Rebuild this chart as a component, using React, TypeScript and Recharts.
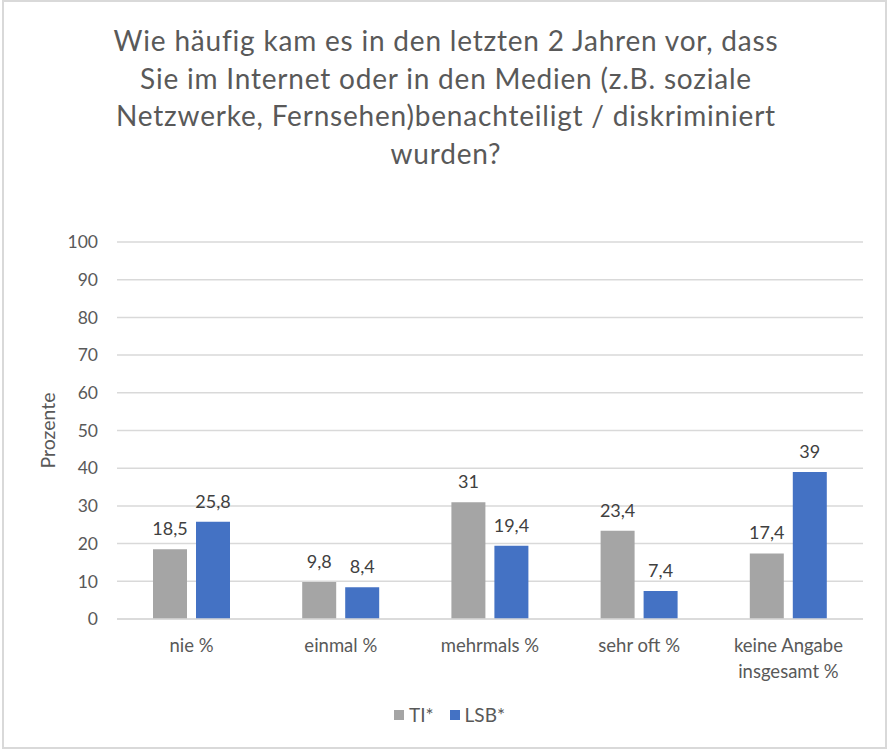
import React from "react";
import { BarChart, Bar, XAxis, YAxis, CartesianGrid, LabelList, Legend } from "recharts";

const titleLines = [
  "Wie häufig kam es in den letzten 2 Jahren vor, dass",
  "Sie im Internet oder in den Medien (z.B. soziale",
  "Netzwerke, Fernsehen)benachteiligt / diskriminiert",
  "wurden?",
];
const categories = ["nie %", "einmal %", "mehrmals %", "sehr oft %", "keine Angabe\ninsgesamt %"];
const tiValues = [18.5, 9.8, 31, 23.4, 17.4];
const lsbValues = [25.8, 8.4, 19.4, 7.4, 39];
const yTicks = [0, 10, 20, 30, 40, 50, 60, 70, 80, 90, 100];
const seriesNames = ["TI*", "LSB*"];
const yAxisTitle = "Prozente";

const data = categories.map((c, i) => ({ name: c, ti: tiValues[i], lsb: lsbValues[i] }));

const FONT = "Lato, 'DejaVu Sans', sans-serif";
const TEXT = "#595959";

const fmt = (v: any) => String(v).replace(".", ",");

const CategoryTick = (props: any) => {
  const { x, y, payload } = props;
  const lines = String(payload.value).split("\n");
  return (
    <text x={x} y={y} textAnchor="middle" fill={TEXT} fontSize={18.5} fontFamily={FONT}>
      {lines.map((l, i) => (
        <tspan key={i} x={x} dy={i === 0 ? 33 : 26}>
          {l}
        </tspan>
      ))}
    </text>
  );
};

const YLabel = (props: any) => {
  const vb = props.viewBox || {};
  const cx = vb.x + 47;
  const cy = vb.y + vb.height / 2;
  return (
    <text x={cx} y={cy} transform={`rotate(-90, ${cx}, ${cy})`} textAnchor="middle" dominantBaseline="central" fill={TEXT} fontSize={19.5} fontFamily={FONT}>
      {yAxisTitle}
    </text>
  );
};

const LegendContent = (props: any) => {
  const items = [...(props.payload || [])].sort(
    (a: any, b: any) => seriesNames.indexOf(a.value) - seriesNames.indexOf(b.value)
  );
  return (
    <div style={{ display: "flex", justifyContent: "center", alignItems: "center", fontFamily: FONT, fontSize: 19, color: TEXT }}>
      {items.map((it: any, i: number) => (
        <div key={i} style={{ display: "flex", alignItems: "center", marginLeft: i === 0 ? 0 : 16 }}>
          <span style={{ display: "inline-block", width: 10, height: 10, background: it.color, marginRight: 5 }} />
          <span>{it.value}</span>
        </div>
      ))}
    </div>
  );
};

export default function App() {
  return (
    <div style={{ position: "absolute", left: 0, top: 0, width: 888, height: 751, background: "#fff", fontFamily: FONT }}>
      <div style={{ position: "absolute", left: 2, top: 0, width: 881, height: 745, border: "2px solid #d9d9d9" }} />
      <div style={{ position: "absolute", left: 0, top: 22, width: 892, textAlign: "center", color: TEXT, fontSize: 28, letterSpacing: 0.8, lineHeight: "37.7px", fontFamily: FONT }}>
        {titleLines.map((l, i) => (
          <div key={i}>{l}</div>
        ))}
      </div>
      <div style={{ position: "absolute", left: 0, top: 0 }}>
        <BarChart width={888} height={751} data={data} margin={{ top: 242, right: 25, left: 0, bottom: 42 }} barGap={9} barSize={34}>
          <CartesianGrid vertical={false} stroke="#d9d9d9" strokeWidth={1.5} />
          <XAxis dataKey="name" height={60} tickLine={false} tickSize={0} tickMargin={0} axisLine={{ stroke: "#d9d9d9", strokeWidth: 1.5 }} tick={<CategoryTick />} interval={0} />
          <YAxis width={117} domain={[0, 100]} ticks={yTicks} tickLine={false} axisLine={false} tickMargin={13} tick={{ fill: TEXT, fontSize: 17.5, fontFamily: FONT }} label={<YLabel />} />
          <Legend
            height={30}
            content={<LegendContent />}
            wrapperStyle={{ top: 703, left: 0, width: 899 }}
          />
          <Bar dataKey="ti" name={seriesNames[0]} fill="#A5A5A5" isAnimationActive={false}>
            <LabelList dataKey="ti" position="top" offset={14} formatter={fmt} fill="#404040" fontSize={18} fontFamily={FONT} />
          </Bar>
          <Bar dataKey="lsb" name={seriesNames[1]} fill="#4472C4" isAnimationActive={false}>
            <LabelList dataKey="lsb" position="top" offset={14} formatter={fmt} fill="#404040" fontSize={18} fontFamily={FONT} />
          </Bar>
        </BarChart>
      </div>
    </div>
  );
}
